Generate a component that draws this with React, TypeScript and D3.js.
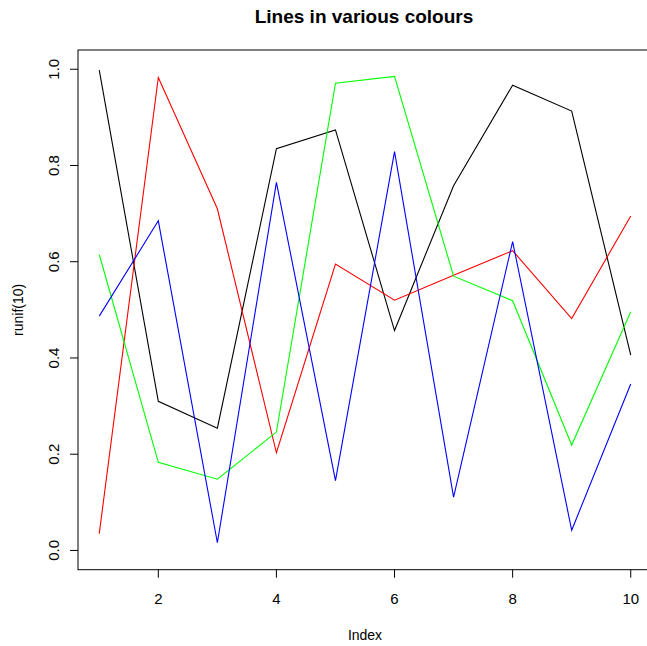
import React from "react";
import * as d3 from "d3";

// Ten uniform draws per series, indexed 1..10
const indices = [1, 2, 3, 4, 5, 6, 7, 8, 9, 10];
const blackValues = [0.998, 0.31, 0.254, 0.835, 0.874, 0.457, 0.758, 0.967, 0.913, 0.406];
const redValues = [0.035, 0.983, 0.71, 0.203, 0.595, 0.52, 0.572, 0.623, 0.482, 0.695];
const greenValues = [0.615, 0.183, 0.148, 0.246, 0.971, 0.985, 0.57, 0.519, 0.219, 0.496];
const blueValues = [0.487, 0.685, 0.016, 0.765, 0.145, 0.829, 0.111, 0.642, 0.042, 0.346];

const seriesList = [
  { name: "black", color: "#000000", values: blackValues },
  { name: "red", color: "#FF0000", values: redValues },
  { name: "green", color: "#00FF00", values: greenValues },
  { name: "blue", color: "#0000FF", values: blueValues },
];

const xTicks = [2, 4, 6, 8, 10];
const yTicks = [0, 0.2, 0.4, 0.6, 0.8, 1.0];

const title = "Lines in various colours";
const xLabel = "Index";
const yLabel = "runif(10)";

const W = 647;
const H = 646;
const plot = { left: 78, right: 652, top: 50, bottom: 569.7 };

export default function App() {
  // R-style 4% padding around the data range
  const xPad = (10 - 1) * 0.04;
  const x = d3.scaleLinear().domain([1 - xPad, 10 + xPad]).range([plot.left, plot.right]);
  const y = d3.scaleLinear().domain([-0.04, 1.04]).range([plot.bottom, plot.top]);

  const line = d3
    .line<number>()
    .x((_, i) => x(indices[i]))
    .y((d) => y(d));

  const font = "'Liberation Sans', Arial, Helvetica, sans-serif";
  const tickLen = 8;

  return (
    <svg
      width={W}
      height={H}
      style={{ position: "absolute", left: 0, top: 0, background: "#fff" }}
      fontFamily={font}
    >
      <rect x={0} y={0} width={W} height={H} fill="#fff" />
      <text x={364} y={23} textAnchor="middle" fontSize={19} fontWeight="bold" fill="#000">
        {title}
      </text>

      {seriesList.map((s) => (
        <path key={s.name} d={line(s.values) || ""} fill="none" stroke={s.color} strokeWidth={1.1} />
      ))}

      <rect
        x={plot.left}
        y={plot.top}
        width={plot.right - plot.left}
        height={plot.bottom - plot.top}
        fill="none"
        stroke="#000"
        strokeWidth={1}
      />

      {xTicks.map((t) => (
        <g key={"x" + t}>
          <line x1={x(t)} x2={x(t)} y1={plot.bottom} y2={plot.bottom + tickLen} stroke="#000" />
          <text x={x(t)} y={604} textAnchor="middle" fontSize={15} fill="#000">
            {t}
          </text>
        </g>
      ))}

      {yTicks.map((t) => (
        <g key={"y" + t}>
          <line x1={plot.left} x2={plot.left - tickLen} y1={y(t)} y2={y(t)} stroke="#000" />
          <text
            transform={`translate(59, ${y(t)}) rotate(-90)`}
            textAnchor="middle"
            fontSize={15}
            fill="#000"
          >
            {t.toFixed(1)}
          </text>
        </g>
      ))}

      <text x={(plot.left + plot.right) / 2} y={640} textAnchor="middle" fontSize={14} fill="#000">
        {xLabel}
      </text>
      <text
        transform={`translate(23, ${(plot.top + plot.bottom) / 2}) rotate(-90)`}
        textAnchor="middle"
        fontSize={14}
        fill="#000"
      >
        {yLabel}
      </text>
    </svg>
  );
}
